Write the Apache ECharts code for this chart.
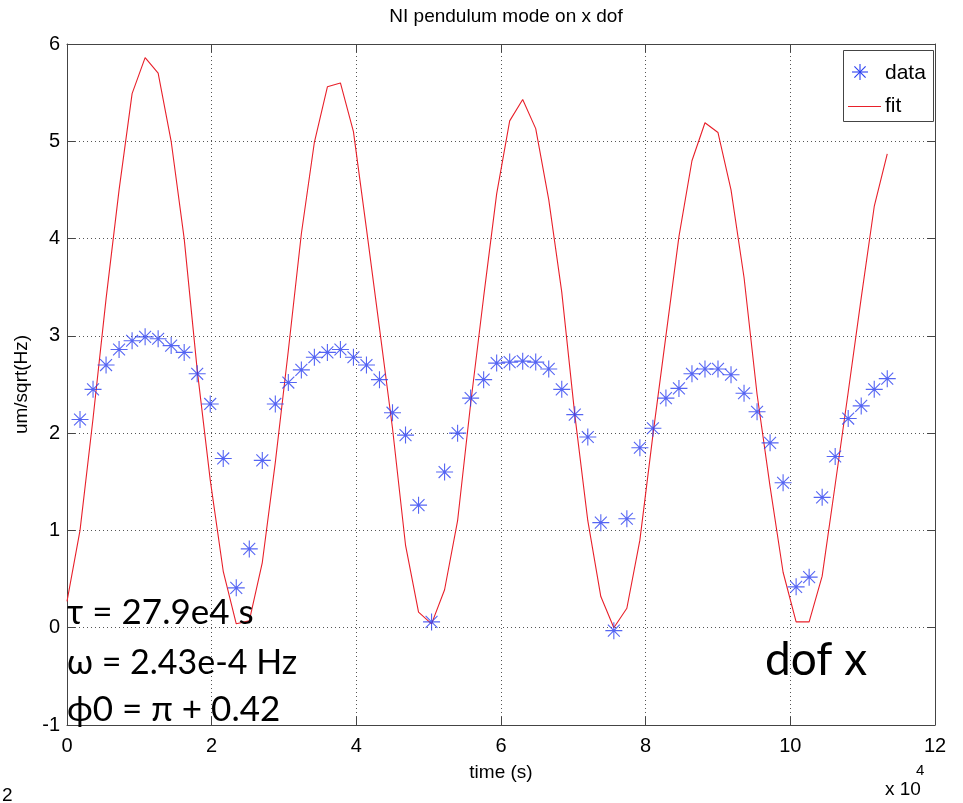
<!DOCTYPE html>
<html>
<head>
<meta charset="utf-8">
<script src="https://cdn.jsdelivr.net/npm/echarts@6/dist/echarts.min.js"></script>
<style>
html,body{margin:0;padding:0;background:#fff;}
#chart{width:963px;height:803px;}
</style>
</head>
<body>
<div id="chart"></div>
<script>
// time in units of 1e4 s
const dataTimes = [0.18,0.36,0.54,0.72,0.90,1.08,1.26,1.44,1.62,1.80,1.98,2.16,2.34,2.52,2.70,2.88,3.06,3.24,3.42,3.60,3.78,3.96,4.14,4.32,4.50,4.68,4.86,5.04,5.22,5.40,5.58,5.76,5.94,6.12,6.30,6.48,6.66,6.84,7.02,7.20,7.38,7.56,7.74,7.92,8.10,8.28,8.46,8.64,8.82,9.00,9.18,9.36,9.54,9.72,9.90,10.08,10.26,10.44,10.62,10.80,10.98,11.16,11.34];
const dataValues = [2.14,2.45,2.70,2.86,2.95,2.99,2.97,2.90,2.83,2.61,2.30,1.74,0.41,0.81,1.72,2.30,2.52,2.65,2.78,2.83,2.86,2.78,2.70,2.55,2.21,1.98,1.26,0.06,1.60,2.00,2.36,2.55,2.72,2.73,2.74,2.73,2.66,2.45,2.19,1.96,1.08,-0.03,1.12,1.85,2.05,2.36,2.46,2.61,2.66,2.66,2.60,2.41,2.22,1.90,1.49,0.42,0.52,1.34,1.76,2.15,2.28,2.45,2.56];
const fitTimes = [0.00,0.18,0.36,0.54,0.72,0.90,1.08,1.26,1.44,1.62,1.80,1.98,2.16,2.34,2.52,2.70,2.88,3.06,3.24,3.42,3.60,3.78,3.96,4.14,4.32,4.50,4.68,4.86,5.04,5.22,5.40,5.58,5.76,5.94,6.12,6.30,6.48,6.66,6.84,7.02,7.20,7.38,7.56,7.74,7.92,8.10,8.28,8.46,8.64,8.82,9.00,9.18,9.36,9.54,9.72,9.90,10.08,10.26,10.44,10.62,10.80,10.98,11.16,11.34];
const fitValues = [0.27,1.00,2.15,3.38,4.50,5.49,5.86,5.70,5.00,4.00,2.65,1.52,0.58,0.04,0.07,0.67,1.70,2.85,4.05,4.99,5.56,5.60,5.10,4.10,3.08,2.05,0.85,0.16,0.04,0.39,1.10,2.30,3.40,4.46,5.21,5.43,5.13,4.40,3.45,2.19,1.10,0.32,0.00,0.20,0.90,1.98,3.00,4.02,4.80,5.19,5.09,4.50,3.60,2.40,1.45,0.57,0.06,0.06,0.53,1.47,2.42,3.39,4.33,4.87];
const xTicks = [0,2,4,6,8,10,12];
const yTicks = [-1,0,1,2,3,4,5,6];

const axisFont = "'Liberation Sans',Arial,sans-serif";
const annFont = "Lato,'Open Sans',sans-serif";
const frameColor = '#444';
const starColor = '#2a3ff0';
const fitColor = '#e8202a';
const gridLine = {show:true, lineStyle:{type:[1,3], color:'#555', width:1}};
const star = 'path://M8,0L8,16M0,8L16,8M2.4,2.4L13.6,13.6M2.4,13.6L13.6,2.4';

const chart = echarts.init(document.getElementById('chart'), null, {renderer:'canvas'});
const xMin = xTicks[0], xMax = xTicks[xTicks.length-1], xInt = xTicks[1]-xTicks[0];
const yMin = yTicks[0], yMax = yTicks[yTicks.length-1], yInt = yTicks[1]-yTicks[0];

// legend asterisk built from four short strokes
function legendStar(cx, cy, r) {
  const d = r * 0.7;
  const segs = [[0,-r,0,r],[-r,0,r,0],[-d,-d,d,d],[-d,d,d,-d]];
  return segs.map(s => ({type:'line', shape:{x1:cx+s[0], y1:cy+s[1], x2:cx+s[2], y2:cy+s[3]},
    style:{stroke:starColor, lineWidth:1.1}, z:21}));
}

chart.setOption({
  backgroundColor:'#fff',
  animation:false,
  title:{
    text:'NI pendulum mode on x dof', left:501, top:2, textAlign:'center',
    textStyle:{fontFamily:axisFont, fontSize:19, fontWeight:'normal', color:'#000'}
  },
  grid:{left:67, right:28, top:44, bottom:78, containLabel:false},
  xAxis:[{
    type:'value', min:xMin, max:xMax, interval:xInt, position:'bottom',
    name:'time (s)', nameLocation:'middle', nameGap:38,
    nameTextStyle:{fontFamily:axisFont, fontSize:19, color:'#000'},
    axisLine:{show:true, onZero:false, lineStyle:{color:frameColor, width:1}},
    axisTick:{show:true, inside:true, length:8, lineStyle:{color:frameColor}},
    axisLabel:{fontFamily:axisFont, fontSize:20, color:'#000', margin:11},
    splitLine:gridLine
  },{
    type:'value', min:xMin, max:xMax, interval:xInt, position:'top',
    axisLine:{show:true, onZero:false, lineStyle:{color:frameColor, width:1}},
    axisTick:{show:true, inside:true, length:8, lineStyle:{color:frameColor}},
    axisLabel:{show:false}, splitLine:{show:false}
  }],
  yAxis:[{
    type:'value', min:yMin, max:yMax, interval:yInt, position:'left',
    name:'um/sqrt(Hz)', nameLocation:'middle', nameGap:30, nameRotate:90,
    nameTextStyle:{fontFamily:axisFont, fontSize:19, color:'#000'},
    axisLine:{show:true, onZero:false, lineStyle:{color:frameColor, width:1}},
    axisTick:{show:true, inside:true, length:8, lineStyle:{color:frameColor}},
    axisLabel:{fontFamily:axisFont, fontSize:20, color:'#000', margin:7},
    splitLine:gridLine
  },{
    type:'value', min:yMin, max:yMax, interval:yInt, position:'right',
    axisLine:{show:true, onZero:false, lineStyle:{color:frameColor, width:1}},
    axisTick:{show:true, inside:true, length:8, lineStyle:{color:frameColor}},
    axisLabel:{show:false}, splitLine:{show:false}
  }],
  series:[{
    name:'data', type:'scatter', xAxisIndex:0, yAxisIndex:0,
    symbol:star, symbolSize:17,
    itemStyle:{color:starColor, borderColor:starColor, borderWidth:1.1},
    data:dataTimes.map((t,i)=>[t,dataValues[i]]),
    z:3
  },{
    name:'fit', type:'line', xAxisIndex:0, yAxisIndex:0,
    symbol:'none', showSymbol:false,
    lineStyle:{color:fitColor, width:1.1},
    itemStyle:{color:fitColor},
    data:fitTimes.map((t,i)=>[t,fitValues[i]]),
    z:2
  }],
  graphic:[
    // legend box
    {type:'rect', shape:{x:843.5, y:50.5, width:90, height:71}, style:{fill:'#fff', stroke:'#444', lineWidth:1}, z:20},
    ...legendStar(860, 72, 8),
    {type:'text', x:885, y:73, style:{text:'data', fontFamily:axisFont, fontSize:21, fill:'#000', textVerticalAlign:'middle'}, z:21},
    {type:'line', shape:{x1:848, y1:106.5, x2:881, y2:106.5}, style:{stroke:fitColor, lineWidth:1.1}, z:21},
    {type:'text', x:885, y:106, style:{text:'fit', fontFamily:axisFont, fontSize:21, fill:'#000', textVerticalAlign:'middle'}, z:21},
    // axis multiplier and stray slide number
    {type:'text', left:885, top:780, style:{text:'x 10', fontFamily:axisFont, fontSize:19, fill:'#000'}},
    {type:'text', left:916, top:763, style:{text:'4', fontFamily:axisFont, fontSize:15, fill:'#000'}},
    {type:'text', left:2, top:786, style:{text:'2', fontFamily:axisFont, fontSize:19, fill:'#000'}},
    // annotations
    {type:'text', x:67, y:613, style:{text:'τ = 27.9e4 s', fontFamily:annFont, fontSize:35, fill:'#000', textVerticalAlign:'middle'}, z:10},
    {type:'text', x:67, y:663, style:{text:'ω = 2.43e-4 Hz', fontFamily:annFont, fontSize:34, fill:'#000', textVerticalAlign:'middle'}, z:10},
    {type:'text', x:67, y:710, style:{text:'ϕ0 = π + 0.42', fontFamily:annFont, fontSize:35, fill:'#000', textVerticalAlign:'middle'}, z:10},
    {type:'text', x:765, y:660, style:{text:'dof x', fontFamily:annFont, fontSize:46, fill:'#000', textVerticalAlign:'middle'}, z:10}
  ]
});
</script>
</body>
</html>
